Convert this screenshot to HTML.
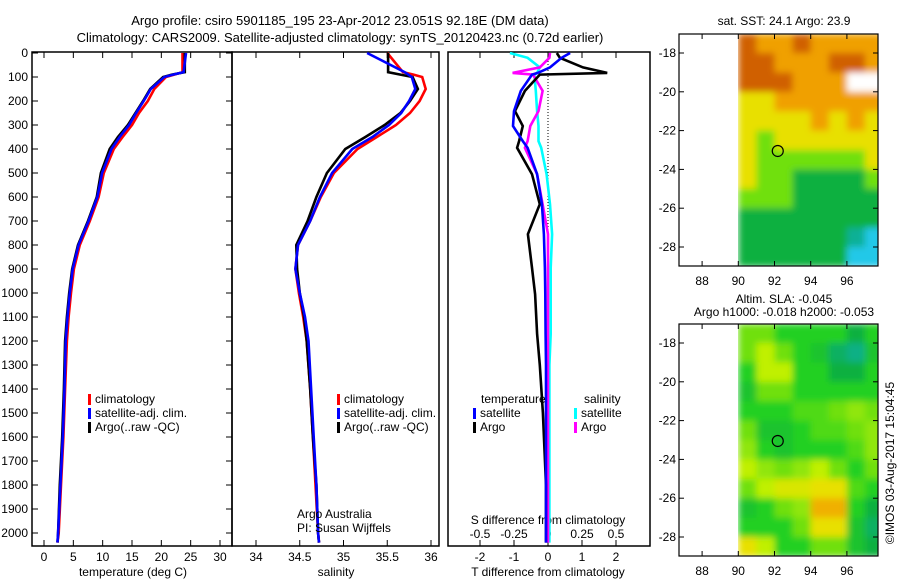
<!DOCTYPE html>
<html><head><meta charset="utf-8"><style>
html,body{margin:0;padding:0;background:#fff;}
svg{display:block;font-family:"Liberation Sans",sans-serif;}
text{font-size:12px;fill:#000;}
</style></head><body>
<svg id="chart" width="900" height="580" viewBox="0 0 900 580" xmlns="http://www.w3.org/2000/svg">
<defs><filter id="smooth" x="0" y="0" width="1" height="1"><feGaussianBlur stdDeviation="3.5" edgeMode="duplicate"/></filter></defs>
<text x="340" y="25" text-anchor="middle" style="font-size:13px">Argo profile: csiro 5901185_195 23-Apr-2012 23.051S 92.18E (DM data)</text>
<text x="340" y="42" text-anchor="middle" style="font-size:13px">Climatology: CARS2009. Satellite-adjusted climatology: synTS_20120423.nc (0.72d earlier)</text>
<g id="plots"></g>
</svg>
<script>
// ---------- data ----------
const depths = [0,80,90,100,150,200,250,300,350,400,500,600,700,800,900,1000,1100,1200,1400,1600,1800,2000,2040];
const tempArgo = [24.0,24.0,21.8,20.3,18.1,16.9,15.6,14.3,12.6,11.2,9.7,9.0,7.5,5.8,4.8,4.3,3.9,3.6,3.4,3.1,2.7,2.4,2.3];
const tempSat  = [24.2,23.8,22.0,20.5,18.2,17.0,15.7,14.5,12.9,11.5,9.9,9.1,7.6,5.9,4.9,4.4,4.0,3.7,3.5,3.2,2.8,2.4,2.3];
const tempClim = [23.6,23.6,22.2,20.8,18.8,17.7,16.2,15.0,13.4,11.9,10.2,9.3,7.8,6.1,5.1,4.6,4.2,3.9,3.6,3.3,2.9,2.5,2.3];
const salArgo  = [35.51,35.51,35.65,35.79,35.85,35.76,35.65,35.47,35.25,35.02,34.81,34.69,34.59,34.46,34.47,34.50,34.55,34.58,34.62,34.65,34.69,34.71,34.72];
const salSat   = [35.27,35.70,35.74,35.78,35.82,35.75,35.66,35.52,35.33,35.10,34.87,34.73,34.62,34.48,34.45,34.50,34.56,34.60,34.63,34.66,34.69,34.71,34.72];
const salClim  = [35.5,35.68,35.80,35.90,35.94,35.87,35.76,35.60,35.38,35.16,34.89,34.74,34.62,34.48,34.45,34.49,34.54,34.58,34.62,34.65,34.68,34.71,34.72];
const diffDepths = [0,20,60,83,90,158,242,304,367,395,505,630,755,895,1005,1170,1300,1500,1800,2040];
const dTArgo = [0.26,0.35,1.03,1.74,-0.24,-0.68,-0.97,-0.74,-0.85,-0.91,-0.47,-0.24,-0.59,-0.47,-0.38,-0.32,-0.24,-0.15,-0.06,-0.06];
const dTSat  = [0.65,0.4,0.06,-0.3,-0.47,-0.8,-1.0,-1.03,-0.74,-0.6,-0.32,-0.18,-0.12,-0.09,-0.08,-0.07,-0.06,-0.06,-0.06,-0.06];
const dSSat  = [-0.28,-0.15,-0.06,-0.08,-0.1,-0.09,-0.08,-0.07,-0.07,-0.05,-0.01,0.015,0.03,0.02,0.02,0.02,0.01,0.01,0.01,0.01];
const dSArgo = [0.015,0.01,-0.06,-0.26,-0.11,-0.04,-0.07,-0.13,-0.15,-0.17,-0.08,-0.04,0.0,0.0,0.0,0.0,0.0,0.0,0.0,0.0];
const depthTicks = [0,100,200,300,400,500,600,700,800,900,1000,1100,1200,1300,1400,1500,1600,1700,1800,1900,2000];
const tempTicks = [0,5,10,15,20,25,30];
const salTicks = [34,34.5,35,35.5,36];
const dTTicks = [-2,-1,0,1,2];
const dSTicks = [-0.5,-0.25,0,0.25,0.5];
const dSTickLabels = ["-0.5","-0.25","0","0.25","0.5"];
const mapLats = [17,18,19,20,21,22,23,24,25,26,27,28];
const mapLons = [90,91,92,93,94,95,96,97];
const sstGrid = [
[5,4,4,5,4,4,4,4],[5,5,4,4,4,5,5,4],[5,5,5,4,4,4,-1,-1],[3,3,4,4,4,4,4,4],
[3,3,3,3,4,3,4,3],[3,2,3,3,3,3,3,3],[3,2,2,2,2,2,2,3],[3,2,2,1,1,1,1,2],
[2,2,2,1,1,1,1,1],[1,1,1,1,1,1,1,1],[1,1,1,1,1,1,0.5,0],[1,1,1,1,1,1,0,0]];
const slaGrid = [
[2,2,1.5,1.5,1.5,1.5,1,1.5],[2,2.5,2,1.5,1.3,0.8,0.6,1.3],[1.5,2.5,2.5,1.5,1.5,1,1,1.5],
[1.3,2,2,1.5,1.5,1.5,1.5,1.5],[1.5,1.5,1.5,1.8,1.8,2,2.2,2],[2,1.3,1.3,1.5,1.8,1.8,2,2.2],
[2.2,1.5,1.3,1.5,1.5,1.5,1.8,2.2],[2.5,2.2,2,2.2,2.5,2,1.5,2],[2,2.5,2.8,2.8,3,3,1.8,1.5],
[1.3,1.5,2,2.2,3.5,3.5,1.5,1],[1.5,1.5,1.5,2,3,3,1.3,0.8],[3,2.5,1.5,1.5,2,2,1.3,1]];
const mapLatTicks = [18,20,22,24,26,28];
const mapLonTicks = [88,90,92,94,96];

// ---------- helpers ----------
const NS='http://www.w3.org/2000/svg';
const G=document.getElementById('plots');
function mk(tag,attrs,parent,txt){const e=document.createElementNS(NS,tag);for(const k in attrs)e.setAttribute(k,attrs[k]);if(txt!==undefined)e.textContent=txt;(parent||G).appendChild(e);return e;}
const yD = d => 53 + d*0.24;
const TOP=52, BOT=546;
function lin(d0,d1,r0,r1){return v=>r0+(v-d0)*(r1-r0)/(d1-d0);}
const xT = lin(0,30,44,220);
const xS = lin(34,36,256,431);
const xDT = lin(0,1,548,582);
const xDS = lin(0,0.25,548,582);

function frame(x0,x1,name){
  const r=mk('rect',{x:x0,y:TOP,width:x1-x0,height:BOT-TOP,fill:'none',stroke:'#000','stroke-width':1.5});
  
  
}
function xticks(ticks,labels,fx,name,yLab){
  ticks.forEach((t,i)=>{const x=fx(t);
    mk('line',{x1:x,x2:x,y1:TOP,y2:TOP+6,stroke:'#000'});
    mk('line',{x1:x,x2:x,y1:BOT,y2:BOT-6,stroke:'#000'});
    const tx=mk('text',{x:x,y:yLab,'text-anchor':'middle'},G,labels[i]);
    
    
  });
}
function legend(x,y,color,label){
  mk('rect',{x:x,y:y-9,width:3,height:11,fill:color});
  const t=mk('text',{x:x+7,y:y},G,label);
  
  
}
function clip(id,x0,x1){const c=mk('clipPath',{id:id});mk('rect',{x:x0,y:TOP,width:x1-x0,height:BOT-TOP},c);}

// ---------- panel 1 temperature ----------
frame(32,232,'temperature-panel');
depthTicks.forEach(d=>{const y=yD(d);
  mk('line',{x1:32,x2:38,y1:y,y2:y,stroke:'#000'});
  mk('line',{x1:232,x2:226,y1:y,y2:y,stroke:'#000'});
  const t=mk('text',{x:28,y:y+4,'text-anchor':'end'},G,String(d));
  
  
});
xticks(tempTicks,tempTicks.map(String),xT,'temperature',561);
let t1=mk('text',{x:133,y:576,'text-anchor':'middle'},G,'temperature (deg C)');


clip('c1',32,232);clip('c2',232,439);clip('c3',448,650);
let g1=mk('g',{'clip-path':'url(#c1)'});
[[tempClim,'red','temp-climatology-line'],[tempArgo,'#000','temp-argo-line'],[tempSat,'blue','temp-satellite-line']].forEach(s=>{
  const pts=s[0].map((v,i)=>xT(v).toFixed(1)+','+yD(depths[i]).toFixed(1)).join(' ');
  const p=mk('polyline',{points:pts,fill:'none',stroke:s[1],'stroke-width':2.6},g1);
  
  
});
legend(88,403,'red','climatology');
legend(88,417,'blue','satellite-adj. clim.');
legend(88,431,'#000','Argo(..raw -QC)');

// ---------- panel 2 salinity ----------
frame(232,439,'salinity-panel');
xticks(salTicks,salTicks.map(String),xS,'salinity',561);
let t2=mk('text',{x:336,y:576,'text-anchor':'middle'},G,'salinity');


[[salClim,'red','sal-climatology-line'],[salArgo,'#000','sal-argo-line'],[salSat,'blue','sal-satellite-line']].forEach(s=>{
  const pts=s[0].map((v,i)=>xS(v).toFixed(1)+','+yD(depths[i]).toFixed(1)).join(' ');
  const p=mk('polyline',{points:pts,fill:'none',stroke:s[1],'stroke-width':2.6},G);
  
  
});
legend(337,403,'red','climatology');
legend(337,417,'blue','satellite-adj. clim.');
legend(337,431,'#000','Argo(..raw -QC)');
let a1=mk('text',{x:297,y:518},G,'Argo Australia');

let a2=mk('text',{x:297,y:532},G,'PI: Susan Wijffels');


// ---------- panel 3 differences ----------
frame(448,650,'difference-panel');
mk('line',{x1:548,x2:548,y1:TOP,y2:BOT,stroke:'#000','stroke-dasharray':'1,2'});
xticks(dTTicks,dTTicks.map(String),xDT,'t-difference',561);
dSTicks.forEach((t,i)=>{const tx=mk('text',{x:xDS(t),y:538,'text-anchor':'middle'},G,dSTickLabels[i]);
  });
let t3=mk('text',{x:548,y:524,'text-anchor':'middle'},G,'S difference from climatology');

let t4=mk('text',{x:548,y:576,'text-anchor':'middle'},G,'T difference from climatology');

let g3=mk('g',{'clip-path':'url(#c3)'});
[[dSSat,xDS,'cyan','s-diff-satellite-line'],[dSArgo,xDS,'magenta','s-diff-argo-line'],[dTArgo,xDT,'#000','t-diff-argo-line'],[dTSat,xDT,'blue','t-diff-satellite-line']].forEach(s=>{
  const pts=s[0].map((v,i)=>s[1](v).toFixed(1)+','+yD(diffDepths[i]).toFixed(1)).join(' ');
  const p=mk('polyline',{points:pts,fill:'none',stroke:s[2],'stroke-width':2.6},g3);
  
  
});
let l1=mk('text',{x:481,y:403},G,'temperature');
let l2=mk('text',{x:584,y:403},G,'salinity');
legend(473,417,'blue','satellite');
legend(473,431,'#000','Argo');
legend(574,417,'cyan','satellite');
legend(574,431,'magenta','Argo');

// ---------- maps ----------
const pal=[[0,[32,200,232]],[0.5,[16,176,150]],[1,[16,176,64]],[1.5,[32,208,32]],[2,[112,224,16]],[2.5,[192,240,0]],[3,[232,224,0]],[3.5,[240,176,0]],[4,[240,160,0]],[5,[208,96,0]]];
function col(v){if(v<0)return '#fff';for(let i=1;i<pal.length;i++){if(v<=pal[i][0]){const a=pal[i-1],b=pal[i],f=(v-a[0])/(b[0]-a[0]);return 'rgb('+a[1].map((c,k)=>Math.round(c+(b[1][k]-c)*f)).join(',')+')';}}return 'rgb(208,96,0)';}
const MAPH=232;
function map(y0,ylat18,grid,name,title1,title2){
  const xL=lin(90,92,738.3,774.5);
  const yL=lat=>ylat18+(lat-18)*19.4;
  const g=mk('g',{});
  
  
  const cp=mk('clipPath',{id:'cp'+name});mk('rect',{x:738,y:y0,width:140,height:MAPH},cp);
  const gc=mk('g',{'clip-path':'url(#cp'+name+')'},g);
  const gb=mk('g',{filter:'url(#smooth)'},gc);
  grid.forEach((row,i)=>row.forEach((v,j)=>{
    const c=mk('rect',{x:xL(mapLons[j]).toFixed(1),y:yL(mapLats[i]).toFixed(1),width:18.7,height:19.9,fill:col(v)},gb);
    
    
  }));
  const ci=mk('ellipse',{cx:xL(92.18),cy:yL(23.051),rx:5.5,ry:5.5,fill:'none',stroke:'#000','stroke-width':1.2},g);
  
  mk('rect',{x:679,y:y0,width:199,height:MAPH,fill:'none',stroke:'#000','stroke-width':1.2},g);
  mapLatTicks.forEach(l=>{const y=yL(l);mk('line',{x1:679,x2:684,y1:y,y2:y,stroke:'#000'},g);mk('line',{x1:878,x2:873,y1:y,y2:y,stroke:'#000'},g);
    const t=mk('text',{x:676,y:y+4,'text-anchor':'end'},g,'-'+l);});
  mapLonTicks.forEach(l=>{const x=xL(l);mk('line',{x1:x,x2:x,y1:y0+MAPH,y2:y0+MAPH-5,stroke:'#000'},g);mk('line',{x1:x,x2:x,y1:y0,y2:y0+5,stroke:'#000'},g);
    const t=mk('text',{x:x,y:y0+MAPH+19,'text-anchor':'middle'},g,String(l));});
  const a=mk('text',{x:784,y:title2?y0-21:y0-9,'text-anchor':'middle'},g,title1);
  if(title2){const b=mk('text',{x:784,y:y0-8,'text-anchor':'middle'},g,title2);}
}
map(34,53,sstGrid,'sst-map','sat. SST: 24.1 Argo: 23.9');
map(324,343,slaGrid,'sla-map','Altim. SLA: -0.045','Argo h1000: -0.018 h2000: -0.053');
let im=mk('text',{x:0,y:0,'text-anchor':'middle',transform:'translate(894,463) rotate(-90)'},G,'©IMOS 03-Aug-2017 15:04:45');

</script>
</body></html>
